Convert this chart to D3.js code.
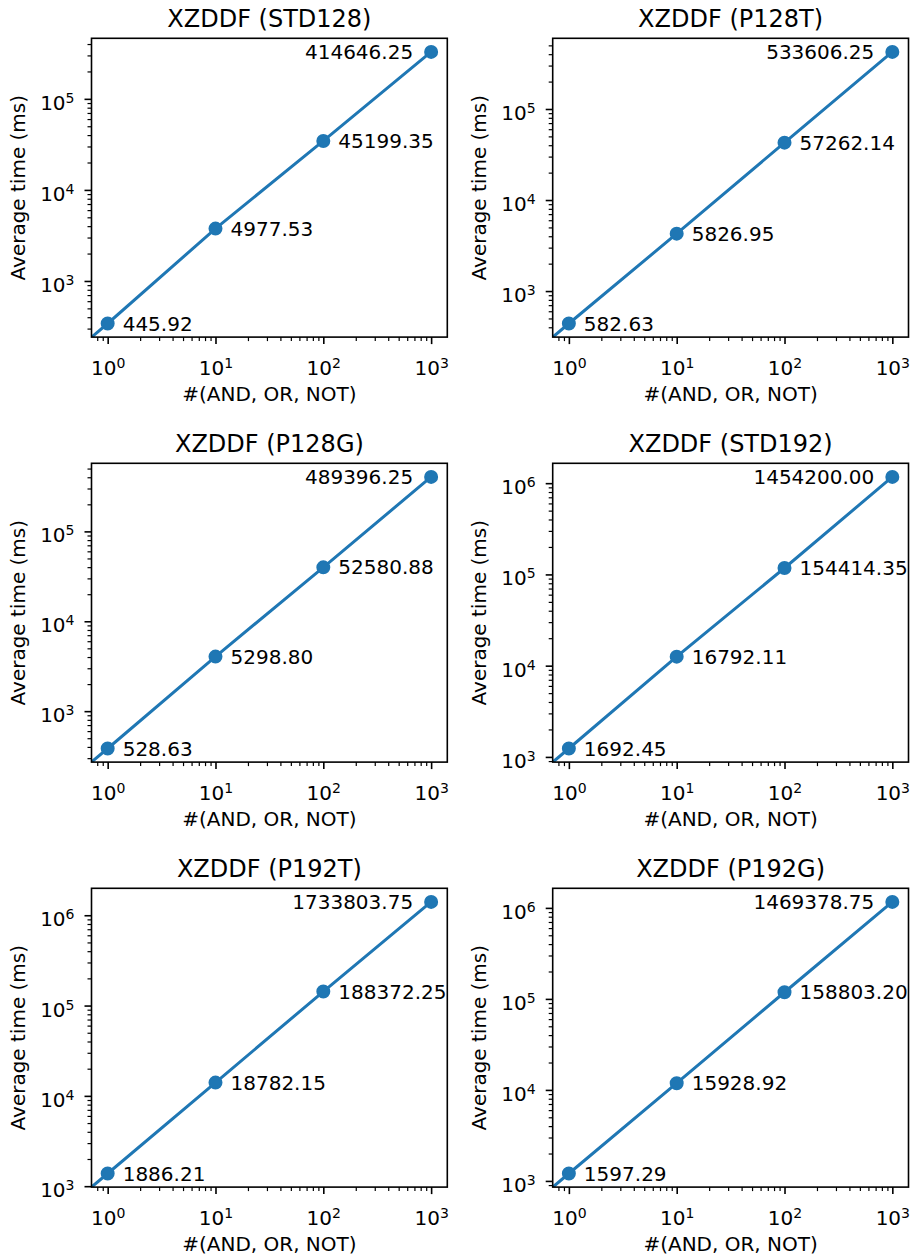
<!DOCTYPE html>
<html>
<head>
<meta charset="utf-8">
<script src="https://cdn.jsdelivr.net/npm/d3@7"></script>
<style>
  html, body { margin: 0; padding: 0; background: #fff; }
  svg { display: block; }
  text { font-family: "DejaVu Sans", "Liberation Sans", sans-serif; fill: #000; }
</style>
</head>
<body>
<div id="chart"></div>
<script>
// ---------------- data ----------------
const titles = ["XZDDF (STD128)", "XZDDF (P128T)", "XZDDF (P128G)",
                "XZDDF (STD192)", "XZDDF (P192T)", "XZDDF (P192G)"];
const gateCounts = [0, 1, 10, 100, 1000];           // x values (0 is clipped on the log axis)

// plotted values
const timesSTD128 = [0, 341, 3760, 34500, 328000];
const timesP128T  = [0, 440, 4270, 42700, 424000];
const timesP128G  = [0, 384, 4045, 39800, 404000];
const timesSTD192 = [0, 1236, 12560, 117500, 1172000];
const timesP192T  = [0, 1381, 14030, 142900, 1406000];
const timesP192G  = [0, 1206, 11850, 118300, 1164000];

// annotated averages
const avgSTD128 = [445.92, 4977.53, 45199.35, 414646.25];
const avgP128T  = [582.63, 5826.95, 57262.14, 533606.25];
const avgP128G  = [528.63, 5298.80, 52580.88, 489396.25];
const avgSTD192 = [1692.45, 16792.11, 154414.35, 1454200.00];
const avgP192T  = [1886.21, 18782.15, 188372.25, 1733803.75];
const avgP192G  = [1597.29, 15928.92, 158803.20, 1469378.75];

const xLabel = "#(AND, OR, NOT)";
const yLabel = "Average time (ms)";

const panels = [
  { title: titles[0], times: timesSTD128, avg: avgSTD128 },
  { title: titles[1], times: timesP128T,  avg: avgP128T  },
  { title: titles[2], times: timesP128G,  avg: avgP128G  },
  { title: titles[3], times: timesSTD192, avg: avgSTD192 },
  { title: titles[4], times: timesP192T,  avg: avgP192T  },
  { title: titles[5], times: timesP192G,  avg: avgP192G  },
];

// ---------------- layout ----------------
const W = 911, H = 1260;
const colX = [91.5, 552.7];
const rowY = [38.3, 463.3, 888.3];
const axW = 355.8, axH = 298.8;
const blue = "#1f77b4";

const svg = d3.select("#chart").append("svg")
  .attr("width", W).attr("height", H).attr("viewBox", `0 0 ${W} ${H}`);

function logDomain(vals) {
  const pos = vals.filter(v => v > 0);
  const lo = Math.log10(d3.min(pos)), hi = Math.log10(d3.max(pos));
  const m = (hi - lo) * 0.05;
  return [Math.pow(10, lo - m), Math.pow(10, hi + m)];
}
function majorTicks(dom) {
  const out = [];
  for (let k = Math.floor(Math.log10(dom[0])); k <= Math.ceil(Math.log10(dom[1])); k++) {
    const v = Math.pow(10, k);
    if (v >= dom[0] * 0.9999 && v <= dom[1] * 1.0001) out.push(v);
  }
  return out;
}
function minorTicks(dom) {
  const out = [];
  for (let k = Math.floor(Math.log10(dom[0])); k <= Math.ceil(Math.log10(dom[1])); k++) {
    for (let m = 2; m <= 9; m++) {
      const v = m * Math.pow(10, k);
      if (v >= dom[0] && v <= dom[1]) out.push(v);
    }
  }
  return out;
}
function supLabel(sel) {
  sel.each(function(d) {
    const t = d3.select(this).text(null);
    t.append("tspan").text("10");
    t.append("tspan").attr("dy", -7).attr("font-size", 14).text(Math.round(Math.log10(d)));
  });
}

panels.forEach((p, i) => {
  const c = i % 2, r = Math.floor(i / 2);
  const g = svg.append("g").attr("transform", `translate(${colX[c]},${rowY[r]})`);

  const x = d3.scaleLog().domain(logDomain(gateCounts)).range([0, axW]);
  const y = d3.scaleLog().domain(logDomain(p.times)).range([axH, 0]);
  // linear views of the log scales, used to place clipped (non-positive) values like matplotlib does
  const xl = d3.scaleLinear().domain(x.domain().map(Math.log10)).range(x.range());
  const yl = d3.scaleLinear().domain(y.domain().map(Math.log10)).range(y.range());
  const px = v => xl(v > 0 ? Math.log10(v) : -1000);
  const py = v => yl(v > 0 ? Math.log10(v) : -1000);

  const clipId = "clip" + i;
  g.append("clipPath").attr("id", clipId)
    .append("rect").attr("width", axW).attr("height", axH);

  // line
  const pts = gateCounts.map((gc, j) => [px(gc), py(p.times[j])]);
  g.append("path")
    .attr("clip-path", `url(#${clipId})`)
    .attr("d", d3.line()(pts))
    .attr("fill", "none").attr("stroke", blue).attr("stroke-width", 3)
    .attr("stroke-linecap", "square");

  // markers
  const idx = gateCounts.map((gc, j) => j).filter(j => gateCounts[j] > 0 && p.times[j] > 0);
  g.append("g").attr("clip-path", `url(#${clipId})`)
    .selectAll("circle").data(idx).join("circle")
    .attr("cx", j => x(gateCounts[j])).attr("cy", j => y(p.times[j]))
    .attr("r", 6).attr("fill", blue).attr("stroke", blue).attr("stroke-width", 2);

  // frame (spines)
  g.append("rect").attr("width", axW).attr("height", axH)
    .attr("fill", "none").attr("stroke", "#000").attr("stroke-width", 1.6);

  // x axis ticks
  const xMajor = majorTicks(x.domain()), xMinor = minorTicks(x.domain());
  const gxMinor = g.append("g").attr("transform", `translate(0,${axH})`)
    .call(d3.axisBottom(x).tickValues(xMinor).tickSize(4).tickFormat(() => ""));
  gxMinor.select(".domain").remove();
  gxMinor.selectAll("line").attr("stroke", "#000").attr("stroke-width", 1.2);

  const gxMajor = g.append("g").attr("transform", `translate(0,${axH})`)
    .call(d3.axisBottom(x).tickValues(xMajor).tickSize(7));
  gxMajor.attr("font-size", null).attr("font-family", null);
  gxMajor.select(".domain").remove();
  gxMajor.selectAll("line").attr("stroke", "#000").attr("stroke-width", 1.6);
  gxMajor.selectAll("text").attr("y", 37.5).attr("dy", null)
    .attr("font-size", 20).attr("text-anchor", "middle").call(supLabel);

  // y axis ticks
  const yMajor = majorTicks(y.domain()), yMinor = minorTicks(y.domain());
  const gyMinor = g.append("g")
    .call(d3.axisLeft(y).tickValues(yMinor).tickSize(4).tickFormat(() => ""));
  gyMinor.select(".domain").remove();
  gyMinor.selectAll("line").attr("stroke", "#000").attr("stroke-width", 1.2);

  const gyMajor = g.append("g")
    .call(d3.axisLeft(y).tickValues(yMajor).tickSize(7));
  gyMajor.attr("font-size", null).attr("font-family", null);
  gyMajor.select(".domain").remove();
  gyMajor.selectAll("line").attr("stroke", "#000").attr("stroke-width", 1.6);
  gyMajor.selectAll("text").attr("x", -17).attr("y", 10.5).attr("dy", null)
    .attr("font-size", 20).attr("text-anchor", "end").call(supLabel);

  // annotations
  const last = idx[idx.length - 1];
  g.selectAll("text.ann").data(idx).join("text").attr("class", "ann")
    .attr("x", j => x(gateCounts[j]) + (j === last ? -18 : 15))
    .attr("y", j => y(p.times[j]) + 7)
    .attr("text-anchor", j => j === last ? "end" : "start")
    .attr("font-size", 20)
    .text(j => p.avg[j - 1].toFixed(2));

  // title
  g.append("text").attr("x", axW / 2).attr("y", -11)
    .attr("text-anchor", "middle").attr("font-size", 24).text(p.title);

  // axis labels
  g.append("text").attr("x", axW / 2).attr("y", axH + 63.7)
    .attr("text-anchor", "middle").attr("font-size", 20).text(xLabel);
  g.append("text").attr("transform", `translate(-67,${axH / 2}) rotate(-90)`)
    .attr("text-anchor", "middle").attr("font-size", 20).text(yLabel);
});
</script>
</body>
</html>
